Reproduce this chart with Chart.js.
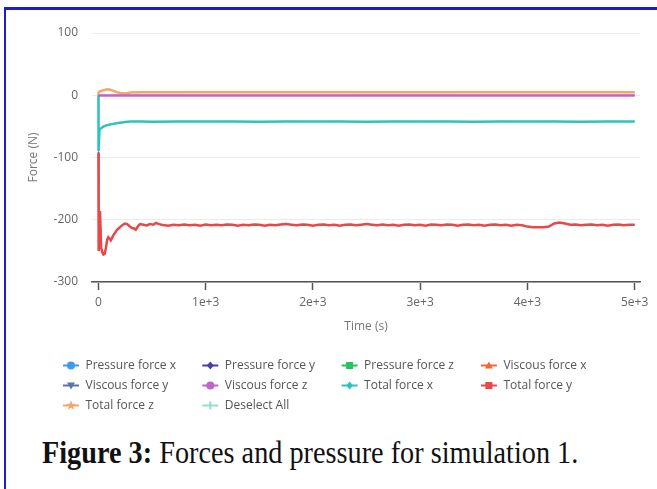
<!DOCTYPE html>
<html>
<head>
<meta charset="utf-8">
<script src="https://cdn.jsdelivr.net/npm/chart.js@4.4.1/dist/chart.umd.min.js"></script>
<style>
  html, body { margin: 0; padding: 0; background: #fff; overflow: hidden; }
  body { width: 657px; height: 489px; position: relative; }
  #frame { position: absolute; left: 4px; top: 7px; width: 720px; height: 600px;
           border-left: 2px solid #1c1cd0; border-top: 3px solid #1c1cd0; }
  #wrap { position: absolute; left: 0; top: 0; width: 657px; height: 420px; }
  #caption { position: absolute; left: 42px; top: 435px; white-space: nowrap;
             font-family: "Liberation Serif", serif; font-size: 31px; color: #111;
             transform-origin: 0 0; }
</style>
</head>
<body>
<div id="frame"></div>
<div id="wrap"><canvas id="chart" width="657" height="420"></canvas></div>
<div id="caption"><b>Figure 3:</b> Forces and pressure for simulation 1.</div>
<script>
// time stamps (s)
const timeFine = [0, 2, 8, 15, 25, 35, 46, 58, 71, 82, 92, 103, 115, 127, 139, 155, 170, 188, 207, 228,
    248, 268, 288, 310, 332, 348, 363, 375, 388, 420, 450, 480, 510, 537, 565, 590, 620,
    650, 700, 750, 800, 850, 900, 950, 1000, 1050, 1100,
    1150, 1200, 1250, 1300, 1350, 1400, 1450, 1500, 1550, 1600,
    1650, 1700, 1750, 1800, 1850, 1900, 1950, 2000, 2050, 2100,
    2150, 2200, 2250, 2300, 2350, 2400, 2450, 2500, 2550, 2600,
    2650, 2700, 2750, 2800, 2850, 2900, 2950, 3000, 3050, 3100,
    3150, 3200, 3250, 3300, 3350, 3400, 3450, 3500, 3550, 3600,
    3650, 3700, 3750, 3800, 3850, 3900, 3950, 4000, 4050, 4100,
    4150, 4200, 4250, 4300, 4350, 4400, 4450, 4500, 4550, 4600,
    4650, 4700, 4750, 4800, 4850, 4900, 4950, 5000];
const timeCoarse = [0, 1, 10, 25, 50, 80, 110, 140, 170, 200, 250, 300, 400, 500, 750, 1000,
    1250, 1500, 1750, 2000, 2250, 2500, 2750, 3000, 3250, 3500, 3750, 4000, 4250, 4500, 4750, 5000];
const timeFlat = [0, 5000];

// forces (N)
const totalY = [-92, -250, -238, -186, -244, -252, -256, -255, -244, -232, -228, -230, -233, -229, -225, -221,
    -217, -214, -211, -208, -206, -207, -210, -213, -214, -216, -212, -209, -207, -208, -209, -207, -208, -205,
    -207, -208, -209,
    -209.5, -208, -209, -207.5, -209, -208, -209.5, -207.5, -209, -208,
    -209, -207.5, -208, -209.5, -208, -209, -207.5, -208, -209.5, -208,
    -209, -207.5, -207, -208, -209, -207.5, -208, -209.5, -208, -207.5,
    -209, -208, -209.5, -208, -207.5, -209, -208, -207, -208, -209,
    -207.5, -209, -208, -209.5, -208, -207.5, -209, -208, -209.5, -207.5,
    -208, -209, -207.5, -208, -209.5, -208, -207.5, -209, -208, -209.5,
    -208, -207.5, -209, -208, -209.5, -208, -209, -211, -212, -212,
    -212, -211, -206, -204.5, -206, -208, -207.5, -209, -208, -207.5,
    -209, -208, -209.5, -208, -207.5, -209, -208, -208];
const totalX = [0, -90, -55, -53, -50, -48, -47, -46, -45, -44, -43, -42,
    -42, -42.5, -42, -42.3, -42, -42.5, -42, -42.3, -42, -42.5, -42, -42.3, -42, -42.5, -42, -42.3, -42, -42.5, -42, -42.3];
const totalZ = [1, 4, 6, 7, 8, 9.5, 9, 7, 5, 3.5, 3, 4.5,
    5, 5, 5, 5, 5, 5, 5, 5, 5, 5, 5, 5, 5, 5, 5, 5, 5, 5, 5, 5];
const viscousX = [0, 0];
const viscousY = [-0.3, -0.3];
const viscousZ = [-0.5, -0.5];

const seriesNames = ["Pressure force x", "Pressure force y", "Pressure force z", "Viscous force x",
    "Viscous force y", "Viscous force z", "Total force x", "Total force y", "Total force z"];
const seriesColors = ["#3d9be9", "#4b3ca8", "#27c25f", "#ee6a35", "#5977a6", "#c062cf", "#2ec4bd", "#e84848", "#f3a766"];
const markerShapes = ["circle", "diamond", "square", "triangle", "triangleDown", "circle", "diamond", "square", "star", "cross"];
const seriesTimes = [timeCoarse, timeFine, timeCoarse, timeFlat, timeFlat, timeFlat, timeCoarse, timeFine, timeCoarse];
const seriesValues = [totalX, totalY, totalZ, viscousX, viscousY, viscousZ, totalX, totalY, totalZ];
const yTicks = [-300, -200, -100, 0, 100];
const xTicks = [0, 1000, 2000, 3000, 4000, 5000];

const FONT = "'Open Sans', 'Noto Sans', sans-serif";
const onTop = [5, 6, 7, 8]; // the lines that show in the picture

function toPoints(times, values) {
    return times.map((t, i) => ({ x: t, y: values[i] }));
}

const datasets = seriesNames.map((name, i) => ({
    label: name,
    data: toPoints(seriesTimes[i], seriesValues[i]),
    borderColor: seriesColors[i],
    backgroundColor: seriesColors[i],
    borderWidth: onTop.includes(i) ? 2.5 : 1,
    pointRadius: 0,
    tension: 0,
    order: onTop.includes(i) ? 0 : 1
}));

function drawMarker(ctx, shape, x, y, color) {
    ctx.fillStyle = color;
    ctx.strokeStyle = color;
    ctx.beginPath();
    if (shape === "circle") {
        ctx.arc(x, y, 4, 0, Math.PI * 2);
        ctx.fill();
    } else if (shape === "diamond") {
        ctx.moveTo(x, y - 4); ctx.lineTo(x + 3.5, y); ctx.lineTo(x, y + 4); ctx.lineTo(x - 3.5, y);
        ctx.closePath(); ctx.fill();
    } else if (shape === "square") {
        ctx.rect(x - 3.5, y - 3.5, 7, 7); ctx.fill();
    } else if (shape === "triangle") {
        ctx.moveTo(x, y - 4); ctx.lineTo(x + 4, y + 3); ctx.lineTo(x - 4, y + 3);
        ctx.closePath(); ctx.fill();
    } else if (shape === "triangleDown") {
        ctx.moveTo(x - 4, y - 3); ctx.lineTo(x + 4, y - 3); ctx.lineTo(x, y + 4);
        ctx.closePath(); ctx.fill();
    } else if (shape === "star") {
        for (let k = 0; k < 10; k++) {
            const r = k % 2 === 0 ? 5 : 2.2;
            const a = -Math.PI / 2 + k * Math.PI / 5;
            const px = x + r * Math.cos(a), py = y + r * Math.sin(a);
            if (k === 0) ctx.moveTo(px, py); else ctx.lineTo(px, py);
        }
        ctx.closePath(); ctx.fill();
    } else if (shape === "cross") {
        ctx.lineWidth = 2;
        ctx.moveTo(x, y - 4); ctx.lineTo(x, y + 4);
        ctx.stroke();
    }
}

// legend in a fixed 4-column grid, like the reference
const gridLegend = {
    id: "gridLegend",
    afterDraw(chart) {
        const ctx = chart.ctx;
        const labels = chart.data.datasets.map(d => ({ text: d.label, color: d.borderColor }));
        labels.push({ text: "Deselect All", color: "#95dccf" });
        ctx.save();
        ctx.font = "12px " + FONT;
        ctx.textBaseline = "middle";
        labels.forEach((item, i) => {
            const col = i % 4, row = Math.floor(i / 4);
            const cx = 71 + col * 139.3;
            const cy = 365.5 + row * 20;
            ctx.beginPath();
            ctx.strokeStyle = item.color;
            ctx.lineWidth = 2;
            ctx.moveTo(cx - 8, cy); ctx.lineTo(cx + 8, cy);
            ctx.stroke();
            drawMarker(ctx, markerShapes[i], cx, cy, item.color);
            ctx.fillStyle = "#555";
            ctx.fillText(item.text, cx + 14.5, cy);
        });
        ctx.restore();
    }
};

new Chart(document.getElementById("chart"), {
    type: "line",
    data: { datasets: datasets },
    plugins: [gridLegend],
    options: {
        responsive: false,
        animation: false,
        layout: { padding: { top: 33, right: 17, bottom: 86, left: 0 } },
        plugins: { legend: { display: false }, tooltip: { enabled: false } },
        scales: {
            x: {
                type: "linear",
                min: -60,
                max: 5050,
                afterBuildTicks: s => { s.ticks = xTicks.map(v => ({ value: v })); },
                afterFit: s => { s.height = 52; },
                border: { color: "#555", width: 1.5 },
                grid: { drawOnChartArea: false, drawTicks: true, tickLength: 8, color: "#555", tickWidth: 1.5 },
                ticks: {
                    padding: 5,
                    color: "#666",
                    font: { family: FONT, size: 12 },
                    callback: v => v === 0 ? "0" : (v / 1000) + "e+3"
                },
                title: { display: true, text: "Time (s)", color: "#777", padding: { top: 0, bottom: 0 },
                         font: { family: FONT, size: 12 } }
            },
            y: {
                min: -300,
                max: 100,
                afterBuildTicks: s => { s.ticks = yTicks.map(v => ({ value: v })); },
                afterFit: s => { s.width = 92; },
                border: { display: false },
                grid: { color: "#ebebeb", lineWidth: 1, drawTicks: false },
                ticks: { padding: 14, color: "#666", font: { family: FONT, size: 12 } },
                title: { display: true, text: "Force (N)", color: "#777", padding: { top: 26, bottom: 0 },
                         font: { family: FONT, size: 12 } }
            }
        }
    }
});

// fit the caption to the width it has in the figure
const cap = document.getElementById("caption");
cap.style.transform = "scaleX(" + (536 / cap.offsetWidth) + ")";
</script>
</body>
</html>
